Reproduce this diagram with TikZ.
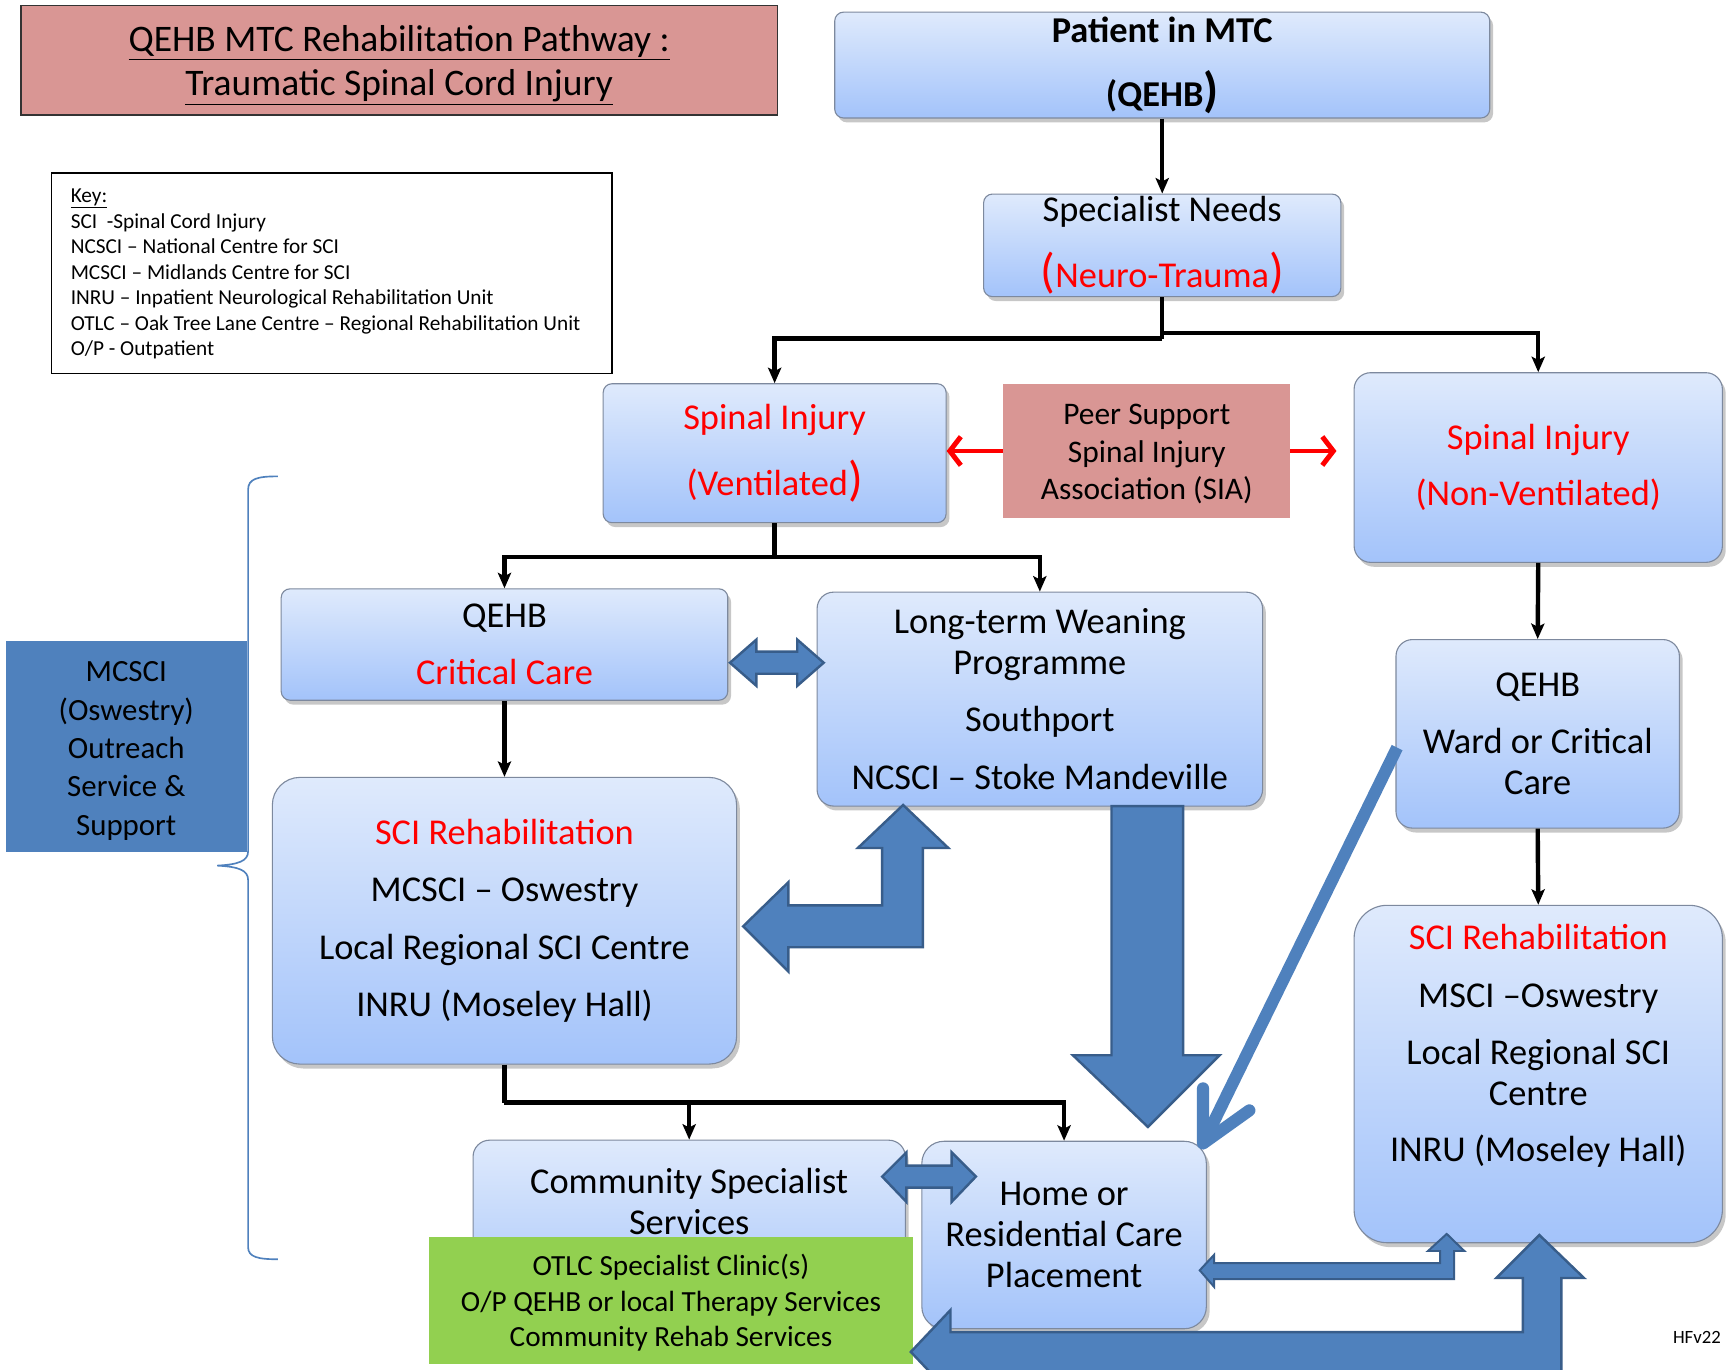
\documentclass[tikz,border=0pt]{standalone}
\usepackage{fontspec}
\setmainfont{Carlito}
\usetikzlibrary{arrows.meta,shadows,calc}
\definecolor{boxtop}{RGB}{223,234,252}
\definecolor{boxbot}{RGB}{163,195,250}
\definecolor{boxline}{RGB}{125,137,158}
\definecolor{pinkbox}{RGB}{217,150,148}
\definecolor{greenbox}{RGB}{146,208,80}
\definecolor{blk}{RGB}{79,129,189}
\definecolor{blkline}{RGB}{56,93,138}
\definecolor{redtxt}{RGB}{255,0,0}
\newcommand\bigpr[1]{{\fontsize{44}{44}\selectfont #1}}
\begin{document}
\begin{tikzpicture}[x=1pt,y=-1pt,
  box/.style={draw=boxline, line width=1pt, rounded corners=8pt, top color=boxtop, bottom color=boxbot,
    drop shadow={shadow xshift=3pt,shadow yshift=-4pt,opacity=0.22,fill=black}, inner sep=0pt},
  txt/.style={align=center, inner sep=0pt, font=\fontsize{33}{37}\selectfont},
  line/.style={draw=black, line width=4pt},
  conn/.style={draw=black, line width=4pt, -{Stealth[length=14pt,width=12pt,inset=3pt]}},
  redarr/.style={draw=redtxt, line width=4.5pt, -{Straight Barb[length=10pt,width=26pt]}},
  blockarrow/.style={fill=blk, draw=blkline, line width=2.2pt, line join=miter},
  thinblue/.style={draw=blk, line width=11pt}
]
\useasboundingbox (0,0) rectangle (1568,1242);
\fill[white] (0,0) rectangle (1568,1242);

% title and key
\node[draw=black!80, line width=1.5pt, fill=pinkbox, minimum width=686pt, minimum height=99pt, inner sep=0pt] (title) at (362,54.5) {};
\node[align=center, inner sep=0pt, font=\fontsize{34}{40}\selectfont] (titleT) at (362,59)
  {\underline{QEHB MTC Rehabilitation Pathway :}\\\underline{Traumatic Spinal Cord Injury}};
\node[draw=black, line width=1.5pt, minimum width=508pt, minimum height=182pt, anchor=north west, inner sep=0pt] (key) at (46,156) {};
\node[anchor=north west, align=left, inner sep=0pt, font=\fontsize{19.3}{23.2}\selectfont] (keyT) at (64,171)
  {\underline{Key:}\\SCI\ \ -Spinal Cord Injury\\NCSCI – National Centre for SCI\\MCSCI – Midlands Centre for SCI\\INRU – Inpatient Neurological Rehabilitation Unit\\OTLC – Oak Tree Lane Centre – Regional Rehabilitation Unit\\O/P - Outpatient};

% main boxes
\node[box, txt, minimum width=594pt, minimum height=96pt] (pat) at (1054,59)
  {\textbf{Patient in MTC}\\[21pt]\textbf{(QEHB\bigpr{)}}};
\node[box, txt, minimum width=324pt, minimum height=93pt] (spec) at (1054,222.5)
  {Specialist Needs\\[22pt]\textcolor{redtxt}{\bigpr{(}Neuro-Trauma\bigpr{)}}};
\node[box, txt, minimum width=311pt, minimum height=126pt] (vent) at (702.5,411)
  {\textcolor{redtxt}{Spinal Injury}\\[21pt]\textcolor{redtxt}{(Ventilated\bigpr{)}}};
\node[fill=pinkbox, minimum width=260pt, minimum height=122pt, inner sep=0pt] (peer) at (1040,409) {};
\node[align=center, inner sep=0pt, font=\fontsize{28.5}{34}\selectfont] (peerT) at (1040,412)
  {Peer Support\\Spinal Injury\\Association (SIA)};
\node[box, txt, rounded corners=15pt, minimum width=334pt, minimum height=172pt] (nonvent) at (1395,424)
  {\textcolor{redtxt}{Spinal Injury}\\[14pt]\textcolor{redtxt}{(Non-Ventilated)}};
\node[box, txt, minimum width=405pt, minimum height=101pt] (crit) at (457.5,584.5)
  {QEHB\\[15pt]\textcolor{redtxt}{Critical Care}};
\node[box, txt, rounded corners=15pt, minimum width=404pt, minimum height=194pt] (lt) at (943,634)
  {Long-term Weaning\\Programme\\[15pt]Southport\\[15pt]NCSCI – Stoke Mandeville};
\node[box, txt, rounded corners=25pt, minimum width=421pt, minimum height=260pt] (lrehab) at (457.5,835)
  {\textcolor{redtxt}{SCI Rehabilitation}\\[15pt]MCSCI – Oswestry\\[15pt]Local Regional SCI Centre\\[15pt]INRU (Moseley Hall)};
\node[box, txt, rounded corners=15pt, minimum width=257pt, minimum height=171pt] (ward) at (1394.5,665.5)
  {QEHB\\[15pt]Ward or Critical\\Care};
\node[box, rounded corners=30pt, minimum width=334pt, minimum height=306pt] (rrehab) at (1395,974) {};
\node[txt] (rrehabT) at (1395,948.5)
  {\textcolor{redtxt}{SCI Rehabilitation}\\[15pt]MSCI –Oswestry\\[15pt]Local Regional SCI\\Centre\\[14pt]INRU (Moseley Hall)};
\node[box, rounded corners=15pt, minimum width=392pt, minimum height=166pt] (comm) at (625,1117) {};
\node[txt] (commT) at (625,1089.5) {Community Specialist\\Services};
\node[fill=greenbox, minimum width=439pt, minimum height=115pt, inner sep=0pt] (green) at (608.5,1179.5) {};
\node[align=center, inner sep=0pt, font=\fontsize{26.5}{32}\selectfont] (greenT) at (608.5,1181.5)
  {OTLC Specialist Clinic(s)\\O/P QEHB or local Therapy Services\\Community Rehab Services};
\node[box, txt, rounded corners=20pt, minimum width=258pt, minimum height=170pt] (home) at (965,1120)
  {Home or\\Residential Care\\Placement};

% side box and brace
\node[fill=blk, minimum width=219pt, minimum height=192pt, inner sep=0pt] (mcsci) at (114.5,677) {};
\node[align=center, inner sep=0pt, font=\fontsize{28}{34.75}\selectfont] (mcsciT) at (114.5,681)
  {MCSCI\\(Oswestry)\\Outreach\\Service \&\\Support};
\draw[blk, line width=1.5pt] (252,432) .. controls (234,432) and (225,434) .. (225,444) -- (225,772)
  .. controls (225,781) and (216,784) .. (197,785) .. controls (216,786) and (225,789) .. (225,798)
  -- (225,1131) .. controls (225,1140) and (234,1142) .. (252,1142);

% black connectors
\draw[conn] (pat.south) -- (spec.north);
\coordinate (j1) at (1054,307);
\coordinate (j2) at (1054,302);
\draw[line] (spec.south) -- (j1);
\draw[conn] (j1) -| (vent.north);
\draw[conn] (j2) -| (nonvent.north);
\coordinate (j3) at (702.5,505);
\draw[line] (vent.south) -- (j3);
\draw[conn] (j3) -| (crit.north);
\draw[conn] (j3) -| (lt.north);
\draw[conn] (crit.south) -- (lrehab.north);
\draw[conn] (nonvent.south) -- (ward.north);
\draw[conn] (ward.south) -- (rrehab.north);
\coordinate (j4) at (457.5,1000);
\draw[line] (lrehab.south) -- (j4);
\draw[conn] (j4) -| (comm.north);
\draw[conn] (j4) -| (home.north);

% red arrows
\coordinate (r1) at (1212,409);
\draw[redarr] (peer.west) -- (peer.west -| vent.east);
\draw[redarr] (peer.east) -- (r1);

% block arrows
\draw[blockarrow] (662,601) -- (686,580) -- (686,591) -- (723,591) -- (723,580) -- (747,601)
  -- (723,622) -- (723,611) -- (686,611) -- (686,622) -- cycle;
\draw[blockarrow] (819,730) -- (860,769) -- (837,769) -- (837,859) -- (715,859) -- (715,881) -- (674,840)
  -- (715,800) -- (715,821) -- (800,821) -- (800,769) -- (778,769) -- cycle;
\draw[blockarrow] (1008,731) -- (1073,731) -- (1073,957) -- (1106,957) -- (1041,1022) -- (973,957)
  -- (1008,957) -- cycle;
\draw[blockarrow] (800,1067) -- (822,1045) -- (822,1057) -- (863,1057) -- (863,1045) -- (885,1067)
  -- (863,1090) -- (863,1077) -- (822,1077) -- (822,1090) -- cycle;
\draw[blockarrow, line width=1.8pt] (1088,1152) -- (1101,1138) -- (1101,1145.5) -- (1306,1145.5) -- (1306,1134.5)
  -- (1295,1134.5) -- (1312,1119) -- (1328,1134.5) -- (1318.6,1134.5) -- (1318.6,1160) -- (1101,1160)
  -- (1101,1167) -- cycle;
\draw[blockarrow] (1396,1120) -- (1436.5,1159) -- (1416,1159) -- (1416,1244) -- (862,1244) -- (862,1264)
  -- (826,1226) -- (862,1188) -- (862,1208) -- (1381,1208) -- (1381,1159) -- (1357,1159) -- cycle;

% diagonal thin arrow
\coordinate (dstart) at (1267,678);
\coordinate (dtip) at (1091,1037);
\draw[thinblue, line cap=butt] (dstart) -- ($(dtip)+(4,-8)$);
\draw[thinblue, line cap=round, line join=round] ($(dtip)+(0,-50)$) -- (dtip) -- ($(dtip)+(42,-30)$);

% version label
\node[anchor=west, inner sep=0pt, font=\fontsize{17}{20}\selectfont] (hf) at (1517,1213) {HFv22};
\end{tikzpicture}
\end{document}
